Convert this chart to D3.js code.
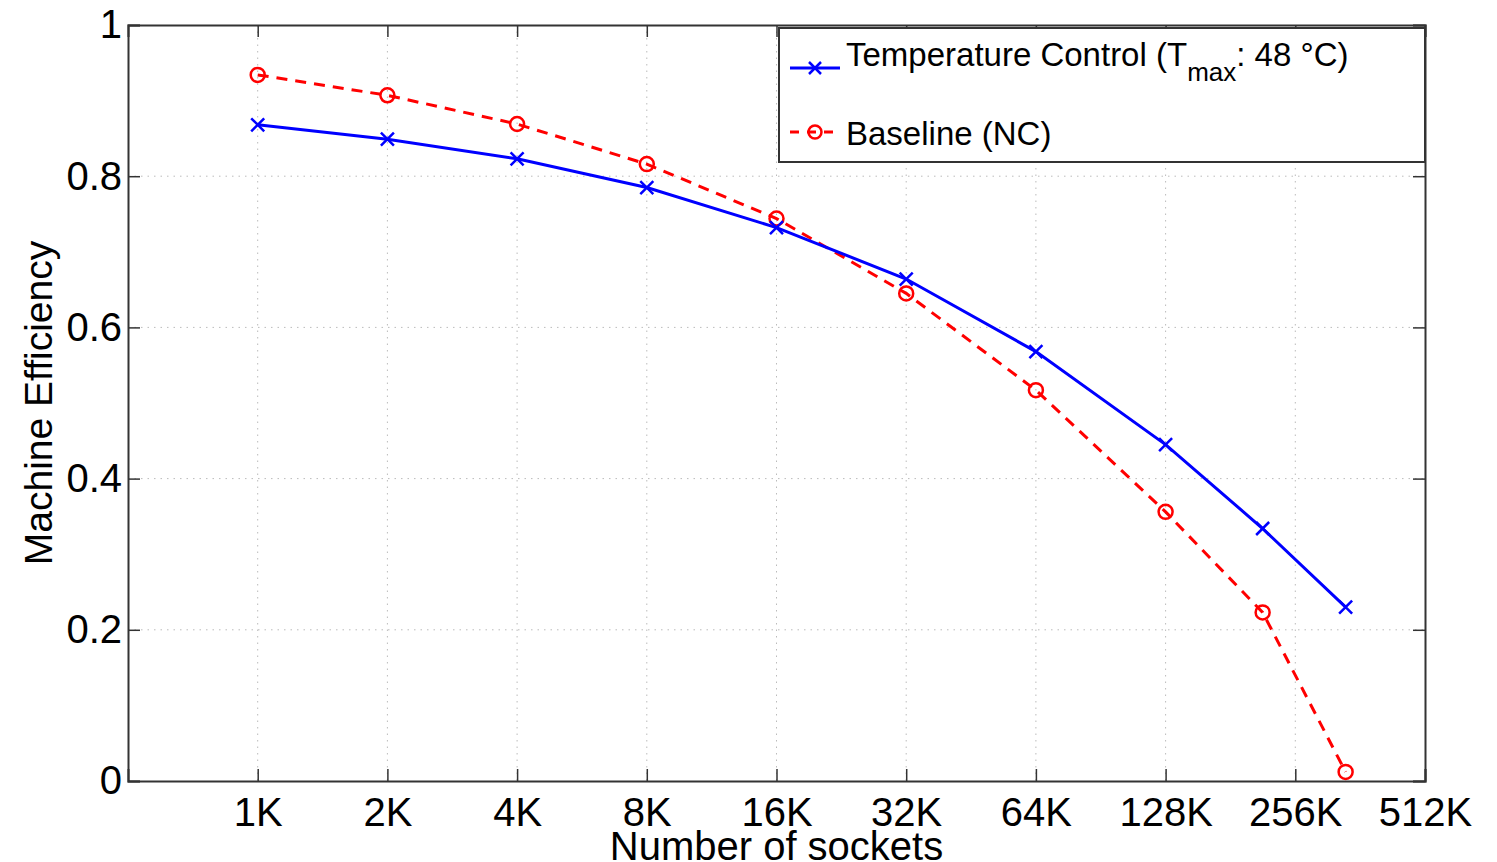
<!DOCTYPE html>
<html>
<head>
<meta charset="utf-8">
<script src="https://cdn.jsdelivr.net/npm/d3@7"></script>
<style>
  body { margin: 0; background: #fff; }
  text { font-family: "Liberation Sans", Arial, sans-serif; }
</style>
</head>
<body>
<svg id="chart" width="1497" height="862"></svg>
<script>
// sockets (in K) and efficiency values
var sockets = [1, 2, 4, 8, 16, 32, 64, 128, 215, 335]
var tempControl = [0.868, 0.849, 0.823, 0.785, 0.732, 0.664, 0.568, 0.445, 0.334, 0.230]
var baseline = [0.934, 0.907, 0.869, 0.816, 0.744, 0.645, 0.517, 0.356, 0.223, 0.012]
var xTicks = [1, 2, 4, 8, 16, 32, 64, 128, 256, 512]
var yTicks = [0, 0.2, 0.4, 0.6, 0.8, 1]

var svg = d3.select('#chart'),
    pLeft = 128, pRight = 1425, pTop = 25, pBottom = 781

var x = d3.scaleLog().base(2).domain([0.5, 512]).range([pLeft, pRight])
var y = d3.scaleLinear().domain([0, 1]).range([pBottom, pTop])

// grid
var grid = svg.append('g')
    .attr('stroke', '#bbb')
    .attr('stroke-width', 1)
    .attr('stroke-dasharray', '1.5,5')
grid.selectAll('.gx').data(xTicks.slice(0, -1)).enter().append('line')
    .attr('x1', d => x(d)).attr('x2', d => x(d))
    .attr('y1', pTop).attr('y2', pBottom)
grid.selectAll('.gy').data(yTicks.slice(1, -1)).enter().append('line')
    .attr('x1', pLeft).attr('x2', pRight)
    .attr('y1', d => y(d)).attr('y2', d => y(d))

// axes with inward ticks
var tk = 12
svg.append('g').attr('transform', 'translate(0,' + pBottom + ')')
    .call(d3.axisBottom(x).tickValues(xTicks).tickSize(-tk).tickPadding(17)
        .tickFormat(d => d + 'K'))
svg.append('g').attr('transform', 'translate(0,' + pTop + ')')
    .call(d3.axisTop(x).tickValues(xTicks).tickSize(-tk).tickFormat(''))
svg.append('g').attr('transform', 'translate(' + pLeft + ',0)')
    .call(d3.axisLeft(y).tickValues(yTicks).tickSize(-tk).tickPadding(6)
        .tickFormat(d => d === 0 || d === 1 ? d : d3.format('.1f')(d)))
svg.append('g').attr('transform', 'translate(' + pRight + ',0)')
    .call(d3.axisRight(y).tickValues(yTicks).tickSize(-tk).tickFormat(''))

svg.selectAll('.domain').attr('stroke', '#333').attr('stroke-width', 2)
svg.selectAll('.tick line').attr('stroke', '#333').attr('stroke-width', 1.5)
svg.selectAll('.tick text').attr('font-size', 40).attr('fill', '#000')
    .attr('font-family', '"Liberation Sans", Arial, sans-serif')

// axis labels
svg.append('text').attr('x', (pLeft + pRight) / 2).attr('y', 860)
    .attr('text-anchor', 'middle').attr('font-size', 40).text('Number of sockets')
svg.append('text').attr('transform', 'translate(52,' + ((pTop + pBottom) / 2) + ') rotate(-90)')
    .attr('text-anchor', 'middle').attr('font-size', 39).text('Machine Efficiency')

// series
var line = d3.line().x(d => x(d[0])).y(d => y(d[1]))
var blueData = d3.zip(sockets, tempControl)
var redData = d3.zip(sockets, baseline)

svg.append('path').datum(redData).attr('d', line)
    .attr('fill', 'none').attr('stroke', '#ff0000').attr('stroke-width', 3)
    .attr('stroke-dasharray', '11,8')
svg.append('path').datum(blueData).attr('d', line)
    .attr('fill', 'none').attr('stroke', '#0000ff').attr('stroke-width', 3)

function cross(g, cx, cy, s) {
    g.append('path')
        .attr('d', 'M' + (cx - s) + ',' + (cy - s) + 'L' + (cx + s) + ',' + (cy + s) +
            'M' + (cx - s) + ',' + (cy + s) + 'L' + (cx + s) + ',' + (cy - s))
        .attr('stroke', '#0000ff').attr('stroke-width', 2.5)
}
function ring(g, cx, cy, r) {
    g.append('circle').attr('cx', cx).attr('cy', cy).attr('r', r)
        .attr('fill', 'none').attr('stroke', '#ff0000').attr('stroke-width', 2.5)
}

var marks = svg.append('g')
redData.forEach(d => ring(marks, x(d[0]), y(d[1]), 7))
blueData.forEach(d => cross(marks, x(d[0]), y(d[1]), 6.5))

// legend
var lg = svg.append('g')
lg.append('rect').attr('x', 779).attr('y', 28).attr('width', 646).attr('height', 134)
    .attr('fill', '#fff').attr('stroke', '#333').attr('stroke-width', 2)
lg.append('line').attr('x1', 790).attr('x2', 840).attr('y1', 68).attr('y2', 68)
    .attr('stroke', '#0000ff').attr('stroke-width', 3)
cross(lg, 815, 68, 6)
lg.append('line').attr('x1', 790).attr('x2', 840).attr('y1', 132).attr('y2', 132)
    .attr('stroke', '#ff0000').attr('stroke-width', 3).attr('stroke-dasharray', '9,8')
ring(lg, 815, 132, 6.5)
var t1 = lg.append('text').attr('x', 846).attr('y', 66).attr('font-size', 33)
t1.append('tspan').text('Temperature Control (T')
t1.append('tspan').attr('dy', 15).attr('font-size', 26).text('max')
t1.append('tspan').attr('dy', -15).text(': 48 °C)')
lg.append('text').attr('x', 846).attr('y', 145).attr('font-size', 33).text('Baseline (NC)')
</script>
</body>
</html>
